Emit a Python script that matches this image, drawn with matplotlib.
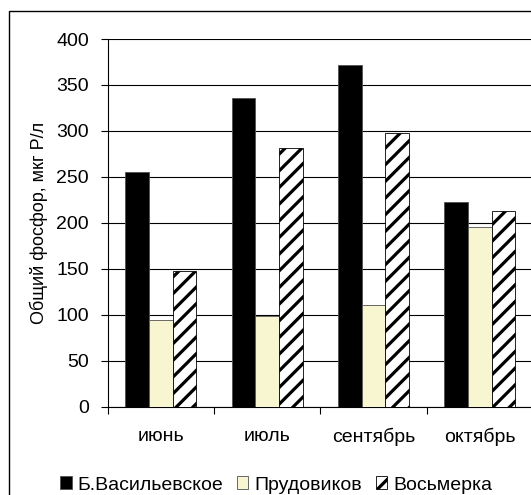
import numpy as np
import matplotlib
matplotlib.use('Agg')
from matplotlib import pyplot as plt
from matplotlib.patches import Rectangle

# месяцы и общий фосфор по водоёмам
months = ['июнь', 'июль', 'сентябрь', 'октябрь']
vasilevskoe = [255, 336, 372, 223]
prudovikov = [94, 99, 111, 196]
vosmerka = [148, 281, 298, 213]
names = ['Б.Васильевское', 'Прудовиков', 'Восьмерка']

plt.rcParams['font.family'] = ['Liberation Sans', 'DejaVu Sans']
plt.rcParams['hatch.linewidth'] = 2.3

fig = plt.figure(figsize=(5.31, 4.95), dpi=100)
ax = fig.add_axes([0.2028, 0.1784, 0.801, 0.7428])

x = np.arange(len(months))
w = 0.222
edge = '#505050'
b1 = ax.bar(x - w, vasilevskoe, w, color='black', edgecolor=edge, linewidth=0.6, zorder=3)
b2 = ax.bar(x, prudovikov, w, color='#F8F6D0', edgecolor=edge, linewidth=0.6, zorder=3)
b3 = ax.bar(x + w, vosmerka, w, color='white', edgecolor='black', hatch='//', linewidth=0.6, zorder=3)

ax.set_xlim(-0.5, 3.5)
ax.set_ylim(0, 400)
ax.set_yticks(range(0, 401, 50))
ax.yaxis.grid(True, color='black', linewidth=0.8)
ax.set_axisbelow(True)

# подписи месяцев по центру, засечки между группами
ax.set_xticks(x)
ax.set_xticklabels(months)
ax.set_xticks(np.arange(-0.5, 3.0, 1.0), minor=True)
ax.tick_params(axis='x', which='major', length=0, pad=15, labelsize=14)
ax.tick_params(axis='x', which='minor', length=4.7, width=0.8, direction='out')
ax.tick_params(axis='y', length=5, width=0.8, pad=8.5, labelsize=14)

for s in ['top', 'right']:
    ax.spines[s].set_visible(False)
ax.spines['left'].set_linewidth(0.8)
ax.spines['bottom'].set_linewidth(0.8)

ax.set_ylabel('Общий фосфор, мкг Р/л', fontsize=13)
ax.yaxis.set_label_coords(-0.14, 0.5)

fig.legend([b1, b2, b3], names, loc='center', bbox_to_anchor=(276 / 531, 10 / 495),
           ncol=3, frameon=False, fontsize=14, handlelength=0.6, handleheight=0.6,
           handletextpad=0.3, columnspacing=0.7, borderaxespad=0)

# рамка вокруг диаграммы
fig.patches.append(Rectangle((8.5 / 531, -0.1), 1.2, 1 - 10.5 / 495 + 0.1,
                             transform=fig.transFigure, fill=False,
                             edgecolor='black', linewidth=1.0))

plt.savefig('out.png', dpi=100)
